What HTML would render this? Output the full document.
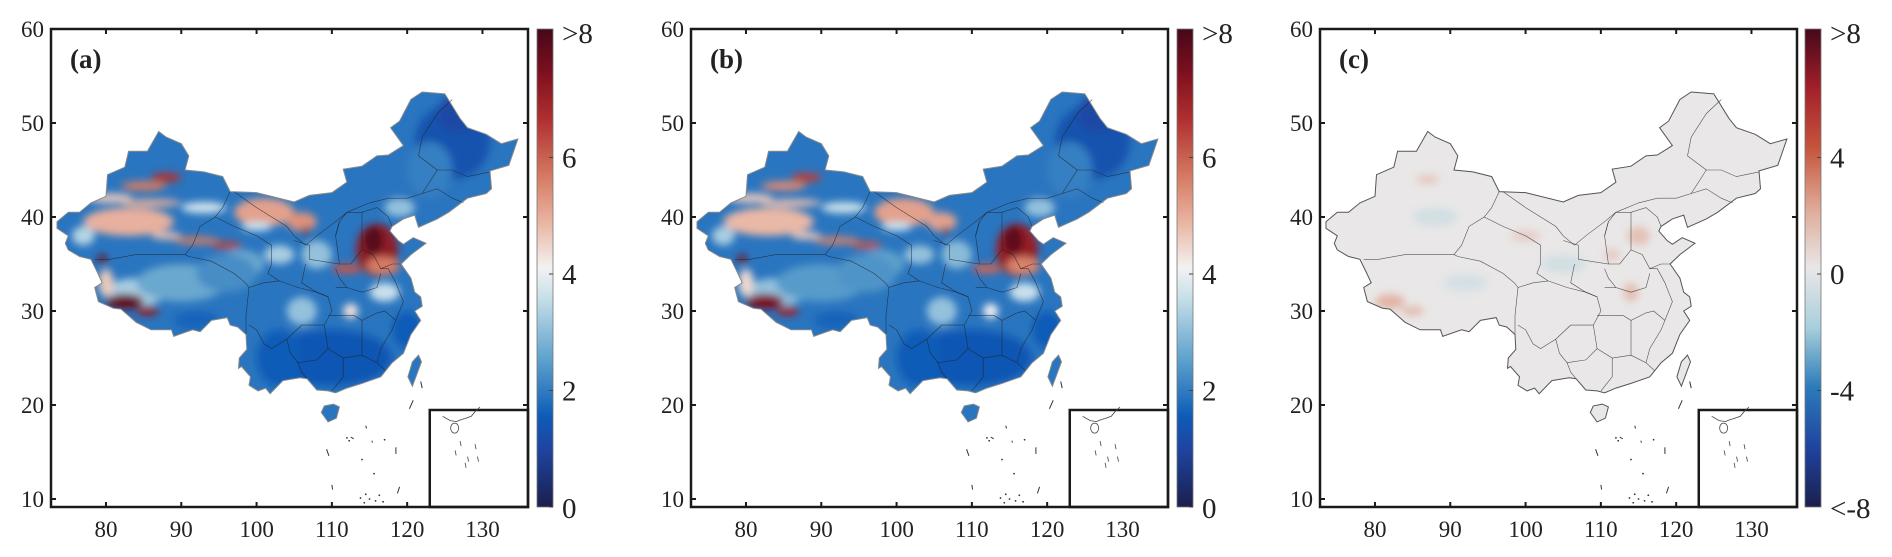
<!DOCTYPE html>
<html><head><meta charset="utf-8">
<style>
html,body{margin:0;padding:0;background:#fff;}
svg{display:block;}
text{font-family:"Liberation Serif",serif;fill:#222;}
</style></head>
<body>
<svg id="fig" width="1892" height="557" viewBox="0 0 1892 557" xmlns="http://www.w3.org/2000/svg" font-family="Liberation Serif, serif">
<defs>
<filter id="blur" x="-20%" y="-20%" width="140%" height="140%"><feGaussianBlur stdDeviation="4"/></filter>
<linearGradient id="cbA" x1="0" y1="1" x2="0" y2="0">
<stop offset="0" stop-color="#1b1f4d"/><stop offset="0.12" stop-color="#1f44a0"/><stop offset="0.19" stop-color="#0d5cb8"/>
<stop offset="0.31" stop-color="#5fa2cc"/><stop offset="0.44" stop-color="#c9e0ea"/><stop offset="0.5" stop-color="#f2f2f2"/>
<stop offset="0.59" stop-color="#eab8a6"/><stop offset="0.69" stop-color="#d67b63"/><stop offset="0.81" stop-color="#b03030"/>
<stop offset="0.91" stop-color="#7d0f1e"/><stop offset="1" stop-color="#45081a"/></linearGradient>
</defs>
</svg>
<script>
// ---- data ----
const panelLabels = ["(a)", "(b)", "(c)"];
const lonTicks = [80, 90, 100, 110, 120, 130];
const latTicks = [60, 50, 40, 30, 20, 10];
const cbTicksAB = [0, 2, 4, 6];
const cbLabelsAB = ["0", "2", "4", "6", ">8"];
const cbTicksC = [-4, 0, 4];
const cbLabelsC = ["<-8", "-4", "0", "4", ">8"];
// hotspot blobs (lon, lat, radii in degrees, value)
const hotLon = [126,123,110,103,84,98,103,108,106,90,96,83,85,88,86,80.5,101,106,106.5,92,96,116,115.5,116.8,112,82.5,85.5,79.5,80,117,112.5,92,100,120,127,119,93,88,77];
const hotLat = [48,45,25,25,32,35,36,36,30,33,34,39.5,43.3,44.2,41.5,42,40.5,39.5,38.5,37.5,37,36.5,37.5,34.8,34.5,31,30,35.5,33,32,30,29,39,28,51,41,41,38,38];
const hotRx  = [5,3,8,3,4,3,2,2,2,6,4,6,3,2,4,3,4,2,0.3,3,2,2.8,1.3,2.2,2,2.5,1.5,0.6,1,2,1,3,2,2,3,2,3,2,1.5];
const hotRy  = [4,3,3,3,1.5,1.5,1,1.5,1.5,2,2,1.5,0.5,0.5,0.4,0.5,1.5,1,0.6,0.4,0.4,2.8,1.5,1,0.5,0.8,0.5,0.5,1.5,1,0.8,1,0.5,2,2,1,0.6,0.4,1];
const valA   = [1.3,2.0,1.4,1.5,3.2,2.6,3.2,3.0,3.0,2.6,2.2,4.8,5.5,6.5,4.8,4.5,5.0,5.2,7.2,5.5,6.2,7.0,7.8,5.5,6.0,7.6,7.0,7.5,4.5,3.5,4.2,1.6,3.5,1.5,1.1,3.0,3.6,4.6,3.3];
const valB   = [1.3,2.0,1.4,1.5,3.0,2.5,3.0,2.9,3.0,2.4,2.3,4.7,5.3,6.3,4.6,4.5,5.0,5.0,7.0,5.4,6.0,6.9,7.7,5.4,5.8,7.3,6.8,7.3,4.3,3.5,4.0,1.6,3.5,1.5,1.1,3.0,3.5,4.5,3.2];
const diffLon = [82,85,115,114,88,105,92,111.5,87,100];
const diffLat = [31,30,38,32,40,35,33,36,44,38];
const diffRx  = [2,1.5,1.5,1,3,3,3,1,1.5,2];
const diffRy  = [0.8,0.5,1,1,1,1,1,0.6,0.5,0.6];
const diffVal = [1.6,1.4,1.2,1.3,-0.7,-0.7,-0.6,1.0,1.0,0.8];
const baseA = 1.85, baseB = 1.85, baseC = 0;

const china = [[73.5,39.5],[75,40.5],[76.5,40.5],[78,41.5],[80,42.2],[80.2,44.5],[82.5,45.3],[83,47],[85.5,47],[87,49.1],[88,48.5],[90,47.8],[91,46.5],[90.5,45],[93,44.8],[95.5,44.3],[96.5,42.7],[100,42.6],[105,41.6],[107,42.3],[110,42.6],[112,43.7],[111.5,45.1],[114,45.4],[116,46.5],[117.5,46.6],[119.5,47.6],[117.8,49.5],[119,50.2],[120.5,52.5],[122,53.3],[125,53.1],[127,50.5],[128,49.5],[130.5,48.8],[132.5,47.8],[134.7,48.3],[133.5,45.5],[131,44.9],[131.2,43],[130.5,42.5],[128,42],[125.5,40.5],[124,39.8],[121.5,38.9],[121,40.2],[119.5,39.8],[118,39],[117.7,38.5],[118.8,37.5],[119.5,37.1],[120.8,37.8],[122.5,37.2],[120.5,36],[119.2,35],[120.5,33.5],[121,32],[121.8,31.5],[122,30.5],[121,30],[121.8,29],[120.5,27.5],[119.5,25.5],[118,24.5],[116.5,23],[114,22.3],[112,21.8],[110.5,21.3],[109.5,21.5],[108,21.6],[106.7,22.8],[105.8,22.9],[103.5,22.6],[101.8,21.2],[101.2,21.8],[100.2,21.5],[99,22.1],[99.2,23],[98,24.1],[97.6,23.9],[97.7,25],[98.7,25.9],[98.6,27.5],[97.5,28.3],[96.5,28.5],[96.1,29.3],[94,29],[92.5,27.8],[91.5,28],[89,27.3],[88.7,28],[86,28],[84,28.8],[82,30.2],[81,30.3],[79,31],[78.5,32.5],[79.5,33],[78.8,34.2],[78,35.5],[76.5,35.8],[75,36.5],[74.6,37.2],[75,38],[73.5,38.8]];
const hainan = [[108.6,19.2],[109.5,18.2],[110.6,18.6],[111,19.8],[110.2,20.1],[109,19.9]];
const taiwan = [[120.1,23],[120.7,22],[121.9,24.6],[121.5,25.3],[120.7,24.6]];
const borders = [
[[78.5,35.5],[80.5,35.5],[84,36],[88,36],[90.5,36],[91,35.8]],
[[90.5,36],[91.5,37],[92.5,39],[94.5,40],[95.5,41],[96.5,42.7]],
[[91,35.8],[94,35.3],[97,34],[98.5,33],[99,32.5]],
[[99,32.5],[98.6,29.5],[98.6,27.5]],
[[94.5,40],[97,39],[100,38],[102,37],[102,35],[101.5,34],[103,33.2]],
[[99,32.5],[101,33],[103,33.2]],
[[97,42.7],[100,41],[104,39],[105,38],[106.5,37]],
[[105,37.5],[107,37],[107,35.5]],
[[107,35.5],[111,35],[110.5,38],[111,39.5]],
[[106.5,35],[106,33],[108,32],[109.5,31.5]],
[[103,33.2],[105.5,32.5],[108,32],[109.5,31.5],[110,30],[109,28.5],[106,28.5],[104,27],[103,26.5],[102,26],[101,26.5],[100,28],[99,28.5]],
[[104,27],[104.5,25.5],[105.5,24.5],[106,23.5],[106.7,22.8]],
[[105.5,24.5],[108,24.8],[109.5,26],[109,28.5]],
[[109.5,29.5],[113,29.5],[114,29],[116,29.8]],
[[109.5,26],[111.5,25],[114,25.3],[114,27],[114,29]],
[[111.5,25],[111.5,23],[110,21.5]],
[[114,25.3],[116,24.5],[117.2,23.6]],
[[116,24.5],[116.5,26],[118,28],[118.5,29]],
[[118.5,29],[117,30],[116,29.8]],
[[110.5,34.5],[111,33.5],[112,32.5],[114,32],[116,32.5],[116.5,34]],
[[114,36.5],[115.5,36],[116.5,34.5],[118,35],[119.2,35]],
[[116.5,34.5],[117.5,34.5],[118.5,33],[119,32],[119.5,31],[118.5,29]],
[[110.5,32.5],[112,32.5]],
[[110.5,38],[111,39.5],[112,40.5],[114,40.5],[114,36.5],[112.5,35],[111,35]],
[[106.5,37],[108,38],[110.5,39.5],[112,40.5],[115,41.5],[117.5,42],[120,42],[122,42.5],[124,45],[121.5,46.5],[122,48.5],[124,51],[126,52.5]],
[[122,42.5],[124,43],[126,42],[127.5,41.5]],
[[124,45],[126,45],[128,44.3],[131,44.8]],
[[114,40.5],[116,41],[117.5,40],[118,39]]
];
const dashes = [[[109.3,15.3],[109.6,14.6]],[[118.5,15.5],[118.5,14.8]],[[110,11.5],[110.1,11]],[[119,11.3],[118.7,10.6]],[[120.8,20.5],[120.3,19.6]],[[121.8,22.5],[122,21.8]],[[114.5,17.8],[114.6,17.5]],[[115.3,16.2],[115.4,16]],[[112.5,16.6],[112.9,16.4]]];
const dots = [[112,16.5],[112.3,16.2],[114,14.2],[114.5,10.5],[115,10],[115.8,9.8],[114.3,9.6],[116.3,10.4],[113.8,10.1],[116.8,9.7],[117,16.3],[115.6,12.7]];

// ---- geometry ----
const panelsX = [51, 691, 1320];
const PW = 477, TOP = 29, BOT = 507;
const NS = "http://www.w3.org/2000/svg";
const FONT = '"Liberation Serif", serif';
const svg = document.getElementById('fig');
const defs = svg.querySelector('defs');
function xs(L, lon){ return L + (lon - 72.7) * 7.53; }
function ys(lat){ return TOP + (60 - lat) * 9.4; }
function mk(tag, attrs, parent){ const e = document.createElementNS(NS, tag); for (const k in attrs) e.setAttribute(k, attrs[k]); (parent||svg).appendChild(e); return e; }
function ptsStr(L, arr){ return arr.map(p => xs(L,p[0]).toFixed(1)+','+ys(p[1]).toFixed(1)).join(' '); }

const stopsA = [[0,[27,31,77]],[1,[31,68,160]],[1.5,[13,92,184]],[2.5,[95,162,204]],[3.5,[201,224,234]],[4,[242,242,242]],[4.7,[234,184,166]],[5.5,[214,123,99]],[6.5,[176,48,48]],[7.3,[125,15,30]],[8,[69,8,26]]];
const stopsC = [[-8,[27,31,77]],[-6,[31,68,160]],[-4,[43,123,186]],[-2,[168,207,220]],[0,[233,231,231]],[2,[223,169,150]],[4,[197,85,60]],[6,[163,32,42]],[8,[69,8,26]]];
function col(stops, v){
  if (v <= stops[0][0]) return 'rgb('+stops[0][1]+')';
  for (let i=1;i<stops.length;i++){ if (v <= stops[i][0]){ const a=stops[i-1], b=stops[i]; const t=(v-a[0])/(b[0]-a[0]); return 'rgb('+a[1].map((c,j)=>Math.round(c+(b[1][j]-c)*t)).join(',')+')'; } }
  return 'rgb('+stops[stops.length-1][1]+')';
}
const gC = mk('linearGradient', {id:'cbC', x1:0, y1:1, x2:0, y2:0}, defs);
for (let i=0;i<=16;i++){ mk('stop', {offset:(i/16).toFixed(3), 'stop-color':col(stopsC, -8+i)}, gC); }

function drawPanel(p){
  const L = panelsX[p];
  const g = mk('g', {});
  
  
  const cp = mk('clipPath', {id:'clip'+p}, defs);
  mk('polygon', {points:ptsStr(L, china)}, cp);
  mk('polygon', {points:ptsStr(L, hainan)}, cp);
  mk('polygon', {points:ptsStr(L, taiwan)}, cp);
  const fillG = mk('g', {'clip-path':'url(#clip'+p+')'}, g);
  
  
  const stops = p===2 ? stopsC : stopsA;
  const base = [baseA, baseB, baseC][p];
  mk('rect', {x:L, y:TOP, width:PW, height:BOT-TOP, fill:col(stops, base)}, fillG);
  const bl = mk('g', {filter:'url(#blur)'}, fillG);
  const lons = p===2 ? diffLon : hotLon, lats = p===2 ? diffLat : hotLat;
  const rxs = p===2 ? diffRx : hotRx, rys = p===2 ? diffRy : hotRy;
  const vals = p===0 ? valA : (p===1 ? valB : diffVal);
  for (let i=0;i<lons.length;i++){
    const e = mk('ellipse', {cx:xs(L,lons[i]), cy:ys(lats[i]), rx:rxs[i]*7.53, ry:rys[i]*9.4, fill:col(stops, vals[i])}, bl);
    
    
  }
  borders.forEach(b => { const l = mk('polyline', {points:ptsStr(L,b), fill:'none', stroke:'#222', 'stroke-width':0.6, 'stroke-opacity':0.75}, g);
      });
  [china, hainan, taiwan].forEach(poly => { const o = mk('polygon', {points:ptsStr(L,poly), fill:'none', stroke:p===2?'#555':'#8a8a8a', 'stroke-width':1}, g);
      });
  dashes.forEach(d => mk('polyline', {points:ptsStr(L,d), fill:'none', stroke:'#333', 'stroke-width':1}, g));
  dots.forEach(d => mk('circle', {cx:xs(L,d[0]), cy:ys(d[1]), r:0.9, fill:'#333'}, g));
  const ix = xs(L,123), iy = 410;
  const ins = mk('rect', {x:ix, y:iy, width:L+PW-ix, height:BOT-iy, fill:'#fff', stroke:'#1a1a1a', 'stroke-width':2.5}, g);
   
  const isc = 0.33, ox = ix + 8, oy = iy - 3;
  const insetPts = [[105,23],[108,21.6],[110.5,21.3],[112,21.8],[114,22.3],[116.5,23],[118,24.5],[120,26]];
  mk('polyline', {points:insetPts.map(q=>(ox+(q[0]-103)*7.53*isc).toFixed(1)+','+(oy+(26-q[1])*9.4*isc).toFixed(1)).join(' '), fill:'none', stroke:'#444', 'stroke-width':0.8}, g);
  mk('ellipse', {cx:ox+(109.8-103)*7.53*isc, cy:oy+(26-19.2)*9.4*isc, rx:4, ry:5, fill:'none', stroke:'#444', 'stroke-width':0.8}, g);
  [[112,15],[118,14],[110,12],[119,10],[115,10],[114,8]].forEach(q => mk('line', {x1:ox+(q[0]-103)*7.53*isc, y1:oy+(26-q[1])*9.4*isc, x2:ox+(q[0]-103)*7.53*isc+1, y2:oy+(26-q[1])*9.4*isc+5, stroke:'#444', 'stroke-width':0.8}, g));
  const fr = mk('rect', {x:L, y:TOP, width:PW, height:BOT-TOP, fill:'none', stroke:'#1a1a1a', 'stroke-width':2.5}, g);
   
  lonTicks.forEach(v => { const x = xs(L,v);
    mk('line', {x1:x, y1:TOP, x2:x, y2:TOP+5, stroke:'#1a1a1a', 'stroke-width':2}, g);
    if (x < ix) mk('line', {x1:x, y1:BOT, x2:x, y2:BOT-5, stroke:'#1a1a1a', 'stroke-width':2}, g);
    const t = mk('text', {x:x, y:537, 'font-size':23, 'text-anchor':'middle', 'font-family':FONT}, g); t.textContent = v;
      });
  latTicks.forEach(v => { const y = ys(v);
    mk('line', {x1:L, y1:y, x2:L+5, y2:y, stroke:'#1a1a1a', 'stroke-width':2}, g);
    if (y < iy) mk('line', {x1:L+PW, y1:y, x2:L+PW-5, y2:y, stroke:'#1a1a1a', 'stroke-width':2}, g);
    const t = mk('text', {x:L-7, y:y+8, 'font-size':23, 'text-anchor':'end', 'font-family':FONT}, g); t.textContent = v;
      });
  const pl = mk('text', {x:L+19, y:68, 'font-size':27, 'font-weight':'bold', 'font-family':FONT}, g); pl.textContent = panelLabels[p];
   
  const cbx = L + PW + (p===2?8:9), cbw = 16;
  const cb = mk('rect', {x:cbx, y:TOP, width:cbw, height:BOT-TOP, fill:p===2?'url(#cbC)':'url(#cbA)', stroke:'#777', 'stroke-width':0.8}, g);
   
  const cbY = p===2 ? (v => BOT - (v+8)/16*(BOT-41)) : (v => BOT - v/8*(BOT-41));
  const ticks = p===2 ? cbTicksC : cbTicksAB;
  const labs = p===2 ? cbLabelsC : cbLabelsAB;
  const labelVals = p===2 ? [-8,-4,0,4,8] : [0,2,4,6,8];
  ticks.forEach(v => mk('line', {x1:cbx+cbw-4, y1:cbY(v), x2:cbx+cbw, y2:cbY(v), stroke:'#444', 'stroke-width':1}, g));
  labelVals.forEach((v,i) => { let y = cbY(v) + 10; if (v===8) y = 43; if (i===0) y = BOT + 11;
    const t = mk('text', {x:cbx+cbw+9, y:y, 'font-size':29, 'font-family':FONT}, g); t.textContent = labs[i];
      });
}
[0,1,2].forEach(drawPanel);
</script>
</body></html>
